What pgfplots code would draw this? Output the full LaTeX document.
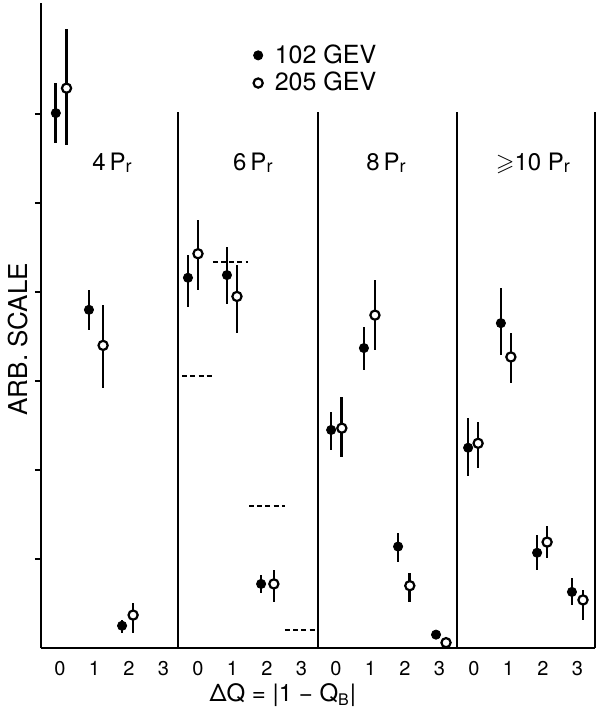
\documentclass[border=0pt]{standalone}
\usepackage{pgfplots}
\pgfplotsset{compat=1.18}
\usepackage{pgfplotstable}
\usepackage{amssymb}
\usepackage{fontspec}
\setmainfont{TeX Gyre Heros}

% One continuous x axis: Delta Q = 0..3 for each prong multiplicity,
% the four multiplicity panels offset by 4 units each.
% columns: x, value, upper error, lower error
\pgfplotstableread{
x      y     ep    em
-0.12  6.01  0.34  0.34
0.84   3.80  0.22  0.23
1.80   0.25  0.06  0.08
3.71   4.16  0.26  0.33
4.84   4.19  0.32  0.32
5.83   0.72  0.10  0.10
7.86   2.45  0.20  0.23
8.81   3.37  0.24  0.25
9.80   1.14  0.15  0.17
10.90  0.15  0     0
11.83  2.25  0.33  0.32
12.78  3.65  0.39  0.36
13.83  1.07  0.20  0.19
14.84  0.63  0.16  0.15
}\gevlow

\pgfplotstableread{
x      y     ep    em
0.19   6.29  0.67  0.64
1.25   3.40  0.45  0.48
2.12   0.37  0.14  0.20
4.00   4.43  0.38  0.41
5.13   3.95  0.35  0.41
6.20   0.72  0.16  0.20
8.17   2.47  0.35  0.32
9.13   3.74  0.39  0.39
10.14  0.70  0.14  0.18
11.19  0.06  0     0
12.12  2.30  0.24  0.28
13.07  3.27  0.27  0.29
14.12  1.19  0.18  0.18
15.16  0.54  0.11  0.23
}\gevhigh

\begin{document}
\begin{tikzpicture}
\useasboundingbox (-20.5pt,-30.5pt) rectangle (277.5pt,324pt);
\begin{axis}[
  at={(0pt,0pt)}, anchor=south west,
  x=17.25pt, y=44.5pt,
  xmin=-0.55, xmax=15.51, ymin=0, ymax=7.25,
  axis x line*=bottom, axis y line*=left,
  axis line style={line width=1.4pt},
  xtick={0,1,2,3,4,5,6,7,8,9,10,11,12,13,14,15},
  xticklabels={0,1,2,3,0,1,2,3,0,1,2,3,0,1,2,3},
  x tick style={draw=none},
  ytick={1,2,3,4,5,6}, yticklabels={},
  y tick style={line width=1pt, black},
  tick align=outside, major tick length=3pt,
  xticklabel style={font=\fontsize{10}{10}\selectfont},
  clip=false,
  legend style={at={(axis cs:5.6,6.83)}, anchor=north west,
    draw=none, fill=none, inner sep=0pt, column sep=4pt,
    font=\fontsize{12.5}{13}\selectfont, row sep=-1pt},
  legend cell align=left,
  legend image code/.code={\draw[#1] plot coordinates {(0.15cm,0cm)};},
]
% panel separators
\addplot[line width=1pt, forget plot] coordinates {(3.42,0) (3.42,6.02)};
\addplot[line width=1pt, forget plot] coordinates {(7.48,0) (7.48,6.02)};
\addplot[line width=1pt, forget plot] coordinates {(11.51,0) (11.51,6.02)};
\addplot[line width=1pt, forget plot] coordinates {(15.51,0) (15.51,6.02)};

% dashed reference levels, 6 prongs
\addplot[line width=1pt, dash pattern=on 2.5pt off 1.6pt, forget plot]
  coordinates {(3.54,3.06) (4.43,3.06)};
\addplot[line width=1pt, dash pattern=on 2.5pt off 1.6pt, forget plot]
  coordinates {(4.43,4.34) (5.45,4.34)};
\addplot[line width=1pt, dash pattern=on 2.5pt off 1.6pt, forget plot]
  coordinates {(5.48,1.60) (6.52,1.60)};
\addplot[line width=1pt, dash pattern=on 2.5pt off 1.6pt, forget plot]
  coordinates {(6.52,0.20) (7.45,0.20)};

% 102 GeV
\addplot[only marks, black, mark=*, mark size=2.3pt,
  error bars/.cd, y dir=both, y explicit, error mark=none,
  error bar style={line width=1.35pt}]
  table[x=x, y=y, y error plus=ep, y error minus=em] {\gevlow};
% 205 GeV
\addplot[only marks, black, mark=*, mark size=2.3pt,
  mark options={fill=white, line width=1.1pt},
  error bars/.cd, y dir=both, y explicit, error mark=none,
  error bar style={line width=1.35pt}]
  table[x=x, y=y, y error plus=ep, y error minus=em] {\gevhigh};
\legend{102 GEV, 205 GEV}

% panel titles
\node[font=\fontsize{12}{12}\selectfont] at (axis cs:1.51,5.45)
  {4\,P\raisebox{-0.2ex}{\fontsize{9}{9}\selectfont r}};
\node[font=\fontsize{12}{12}\selectfont] at (axis cs:5.59,5.45)
  {6\,P\raisebox{-0.2ex}{\fontsize{9}{9}\selectfont r}};
\node[font=\fontsize{12}{12}\selectfont] at (axis cs:9.45,5.45)
  {8\,P\raisebox{-0.2ex}{\fontsize{9}{9}\selectfont r}};
\node[font=\fontsize{12}{12}\selectfont] at (axis cs:13.71,5.45)
  {$\geqslant$10 P\raisebox{-0.2ex}{\fontsize{9}{9}\selectfont r}};

% axis titles
\node[rotate=90, font=\fontsize{13}{14}\selectfont] at (axis cs:-1.22,3.47)
  {ARB.\ SCALE};
\node[font=\fontsize{12}{13}\selectfont] at (axis cs:6.46,-0.53)
  {ΔQ = |1 − Q\textsubscript{B}|};
\end{axis}
\end{tikzpicture}
\end{document}
